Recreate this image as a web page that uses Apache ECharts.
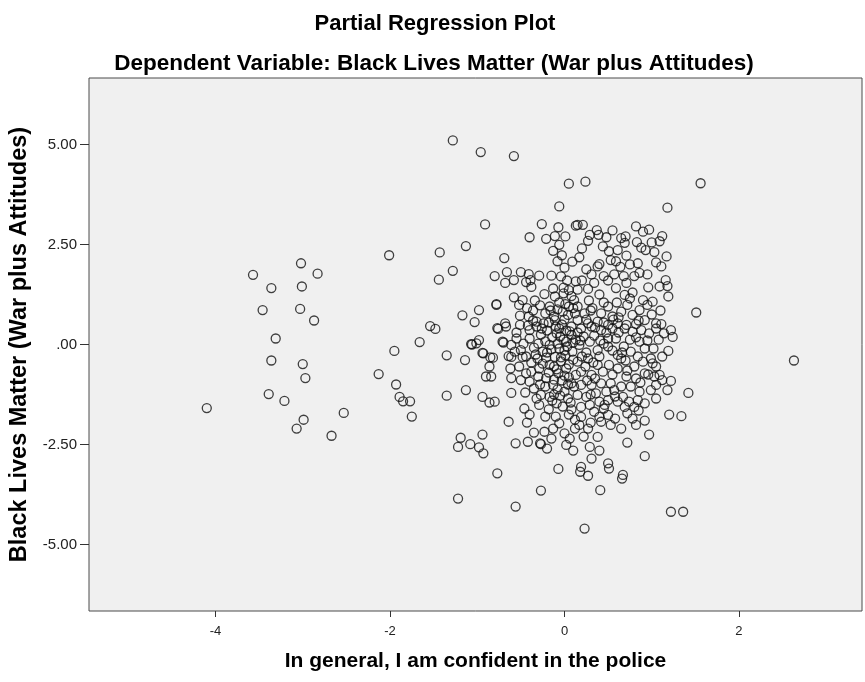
<!DOCTYPE html>
<html>
<head>
<meta charset="utf-8">
<script src="https://cdn.jsdelivr.net/npm/echarts@6/dist/echarts.min.js"></script>
<style>
  html, body { margin: 0; padding: 0; background: #ffffff; }
  #chart { width: 865px; height: 682px; }
</style>
</head>
<body>
<div id="chart"></div>
<script>
// Partial regression residuals: [confidence in police, BLM (war plus attitudes)]
const farLeft = [
  [-4.10,-1.59],[-3.57,1.74],[-3.02,2.03],[-2.83,1.77],[-3.36,1.41],[-3.01,1.45],
  [-3.46,0.86],[-3.03,0.89],[-2.87,0.60],[-3.31,0.15],[-3.36,-0.40],[-3.00,-0.49],
  [-2.97,-0.84],[-3.39,-1.24],[-3.21,-1.41],[-2.99,-1.88],[-3.07,-2.10],[-2.53,-1.71],
  [-2.67,-2.28]
];
const midLeft = [
  [-2.01,2.23],[-1.43,2.30],[-1.44,1.62],[-1.28,1.84],[-1.54,0.46],[-1.48,0.39],
  [-1.66,0.06],[-1.95,-0.16],[-1.35,-0.27],[-2.13,-0.74],[-1.93,-1.00],[-1.89,-1.31],
  [-1.85,-1.42],[-1.77,-1.42],[-1.75,-1.80],[-1.35,-1.28]
];
const upperSparse = [
  [-1.28,5.10],[-0.96,4.81],[-0.58,4.71],[0.05,4.02],[0.24,4.07],[1.56,4.03],
  [-0.06,3.45],[1.18,3.42],[-0.91,3.00],[-0.26,3.01],[-1.13,2.46],[-0.40,2.68],
  [-0.69,2.16],[-0.80,1.71],[-0.78,1.01],[-0.78,0.99],[-1.17,0.73],[-0.98,0.86],
  [-1.03,0.56],[-1.14,-0.39],[-1.07,0.01],[-0.98,0.11],[-0.94,-0.21],[-0.77,0.41],
  [-0.68,0.53],[-0.70,0.05],[-0.55,0.15],[-0.85,-0.32],[-0.64,-0.29]
];
const upperLeftCore = [
  [0.13,2.97],[-0.21,2.64],[-0.07,2.93],[-0.11,2.71],[0.01,2.70],[-0.06,2.49],
  [-0.13,2.34],[-0.03,2.23],[-0.08,2.08],[0.00,1.92],[0.09,2.07],[-0.66,1.81],
  [-0.50,1.81],[-0.58,1.61],[-0.68,1.54],[-0.41,1.76],[-0.29,1.72],[-0.39,1.61],
  [-0.44,1.56],[-0.38,1.44],[-0.15,1.72],[-0.04,1.70],[0.03,1.60],[0.13,1.58],
  [-0.13,1.40],[-0.01,1.42],[0.05,1.36],[-0.58,1.18],[-0.48,1.11],[-0.34,1.10],
  [-0.23,1.26],[-0.11,1.20],[-0.01,1.28],[0.08,1.21],[0.11,1.11],[-0.52,0.99],
  [-0.43,0.91],[-0.51,0.72],[-0.41,0.70],[-0.51,0.49],[-0.42,0.47],[-0.32,0.57],
  [-0.22,0.78],[-0.17,0.95],[-0.08,0.88],[0.01,1.01],[0.10,0.91],[-0.24,0.53],
  [-0.11,0.61],[0.00,0.63],[0.08,0.45],[-0.06,0.40]
];
const upperRightCore = [
  [0.15,2.99],[0.21,2.99],[0.37,2.86],[0.29,2.74],[0.27,2.59],[0.48,2.68],
  [0.39,2.74],[0.65,2.66],[0.69,2.54],[0.61,2.36],[0.51,2.33],[0.53,2.11],
  [0.59,2.08],[0.64,1.94],[0.71,2.22],[0.90,2.82],[0.97,2.87],[0.83,2.56],
  [0.88,2.42],[0.93,2.36],[1.03,2.31],[1.09,2.58],[1.12,2.71],[1.17,2.20],
  [1.11,1.95],[0.84,2.03],[0.86,1.79],[0.80,1.71],[0.17,2.18],[0.25,1.88],
  [0.40,2.01],[0.45,1.71],[0.31,1.75],[0.34,1.54],[0.27,1.39],[0.15,1.37],
  [0.57,1.75],[0.68,1.71],[0.71,1.54],[0.59,1.41],[0.69,1.24],[0.78,1.30],
  [0.90,1.11],[0.96,1.43],[1.09,1.45],[1.16,1.61],[1.18,1.46],[1.19,1.20],
  [1.01,1.07],[1.51,0.80],[0.15,0.95],[0.23,0.78],[0.32,0.91],[0.42,0.78],
  [0.50,0.95],[0.55,0.70],[0.65,0.82],[0.72,0.99],[0.78,0.74],[0.86,0.86],
  [0.92,0.61],[0.95,0.99],[1.05,0.53],[1.11,0.51],[0.15,0.61],[0.27,0.53],
  [0.38,0.57],[0.50,0.49],[0.61,0.53],[0.71,0.49],[0.82,0.51]
];
const lowerLeftCore = [
  [-1.06,0.00],[-1.01,0.03],[-0.93,-0.22],[-0.82,-0.33],[-0.86,-0.55],[-0.90,-0.80],
  [-0.84,-0.80],[-0.71,0.07],[-0.61,-0.01],[-0.50,-0.14],[-0.48,-0.31],[-0.61,-0.31],
  [-0.62,-0.60],[-0.61,-0.84],[-0.50,-0.89],[-0.40,-0.93],[-0.44,-0.72],[-0.38,-0.68],
  [-1.13,-1.14],[-0.94,-1.31],[-0.86,-1.45],[-0.80,-1.43],[-0.61,-1.21],[-0.46,-1.60],
  [-0.40,-1.75],[-0.43,-1.95],[-0.64,-1.93],[-0.22,-1.80],[-0.94,-2.25],[-1.19,-2.33],
  [-1.22,-2.56],[-1.08,-2.49],[-0.98,-2.57],[-0.93,-2.72],[-0.56,-2.47],[-0.42,-2.43],
  [-0.28,-2.47],[-0.77,-3.22],[-0.07,-3.11],[-0.31,-0.35],[-0.25,-0.18],[-0.17,-0.01],
  [-0.29,-0.60],[-0.17,-0.51],[-0.11,-0.31],[-0.06,-0.10],[0.02,0.07],[0.08,0.24],
  [-0.21,-0.84],[-0.13,-1.01],[-0.27,-1.26],[-0.17,-1.31],[-0.09,-1.47],[0.00,-1.18],
  [0.08,-0.97],[0.13,-0.76],[-0.29,-1.51],[-0.23,-2.18],[-0.13,-2.10],[-0.06,-1.97],
  [0.00,-2.22],[0.06,-2.35],[0.02,-2.51],[-0.15,-2.35],[-0.76,0.39],[-0.67,0.45],
  [-0.40,0.36],[-0.32,0.45],[-0.57,-0.18]
];
const lowerRightCore = [
  [0.19,0.40],[0.31,0.45],[0.42,0.36],[0.50,0.15],[0.59,0.15],[0.69,0.40],
  [0.78,0.32],[0.88,0.36],[0.97,0.28],[1.05,0.40],[1.14,0.28],[1.22,0.36],
  [1.24,0.19],[1.19,-0.16],[0.17,-0.01],[0.29,0.07],[0.38,-0.14],[0.50,-0.05],
  [0.61,-0.26],[0.51,-0.51],[0.65,-0.35],[0.76,-0.18],[0.86,0.07],[0.92,-0.10],
  [0.99,-0.35],[1.01,-0.47],[0.90,-0.43],[0.80,-0.55],[0.15,-0.43],[0.27,-0.35],
  [0.38,-0.51],[0.19,-0.68],[0.31,-0.76],[0.44,-0.68],[0.61,-0.60],[0.71,-0.80],
  [0.82,-0.85],[0.92,-0.72],[1.03,-0.80],[1.09,-0.76],[1.12,-0.89],[1.22,-0.91],
  [1.18,-1.14],[1.05,-1.01],[0.99,-1.14],[0.86,-1.18],[0.76,-1.05],[0.65,-1.05],
  [0.53,-0.97],[0.42,-0.97],[0.31,-1.01],[0.19,-1.01],[0.15,-1.26],[0.25,-1.31],
  [0.36,-1.22],[0.48,-1.18],[0.57,-1.14],[0.67,-1.31],[0.74,-1.43],[0.84,-1.39],
  [0.92,-1.47],[0.80,-1.56],[0.61,-1.43],[0.50,-1.39],[0.40,-1.43],[0.29,-1.51],
  [0.19,-1.56],[0.46,-1.51],[0.34,-1.68],[0.19,-1.81],[0.17,-2.01],[0.27,-2.10],
  [0.40,-1.81],[0.50,-1.76],[0.42,-1.93],[0.53,-2.01],[0.72,-1.72],[0.78,-1.85],
  [0.82,-2.01],[0.69,-1.56],[0.38,-2.31],[0.29,-2.56],[0.31,-2.85],[0.19,-3.06],
  [0.50,-2.97],[0.51,-3.10],[0.92,-2.79],[0.97,-2.25],[0.67,-3.26],[1.42,-1.21],
  [1.20,-1.75],[1.34,-1.79]
];
const lowerSparse = [
  [0.18,-3.18],[0.27,-3.28],[0.66,-3.35],[0.41,-3.64],[-0.27,-3.65],[-0.56,-4.05],
  [-1.22,-3.85],[0.23,-4.60],[1.22,-4.18],[1.36,-4.18],[-0.27,-2.49],[2.63,-0.40]
];
const denseCentre = [
  [-0.02,0.82],[0.04,0.74],[-0.12,0.70],[-0.18,0.55],[-0.03,0.50],[0.06,0.33],
  [-0.09,0.28],[-0.20,0.35],[-0.27,0.25],[-0.14,0.18],[-0.01,0.12],[0.10,0.05],
  [-0.22,0.08],[-0.30,0.02],[-0.08,0.02],[0.03,-0.05],[-0.15,-0.12],[-0.35,-0.08],
  [-0.40,0.15],[-0.33,-0.25],[0.09,-0.18],[0.01,-0.27],[-0.21,-0.33],[-0.04,-0.42],
  [0.10,-0.38],[-0.12,-0.55],[0.02,-0.60],[-0.25,-0.48],[-0.38,-0.45],[-0.07,-0.72],
  [0.05,-0.82],[-0.18,-0.70],[-0.30,-0.80],[-0.03,-0.90],[0.11,-1.05],[-0.22,-1.05],
  [-0.08,-1.12],[-0.35,-1.10],[0.04,-1.35],[-0.12,-1.25],[-0.02,-1.55],[0.08,-1.62],
  [-0.18,-1.62],[-0.32,-1.35],[0.12,-1.88],[-0.10,-1.80],[0.05,-1.75],[-0.45,-1.20],
  [-0.52,-0.55],[-0.55,0.30],[-0.47,0.02],[-0.36,0.85],[-0.28,0.98],[0.15,0.30],
  [0.13,0.12],[0.22,0.20],[0.25,-0.20],[0.34,0.22],[0.45,0.02],[0.40,-0.30],
  [0.55,-0.15],[0.68,-0.05],[0.75,0.12],[0.62,0.30],[0.55,0.40],[0.45,0.55],
  [0.35,0.42],[0.25,0.62],[0.62,0.68],[0.82,0.18],[0.95,0.10],[1.08,0.12],
  [1.12,-0.30],[1.05,-0.55],[0.70,-0.40],[0.55,-0.75],[0.35,-0.85],[0.24,-0.55],
  [0.87,-0.95],[0.45,-1.60],[0.58,-1.85],[0.30,-1.95],[0.65,-2.10],[0.85,-1.65],
  [0.22,-2.30],[0.10,-2.65],[-0.20,-2.60],[-0.35,-2.20],[0.40,-2.65],[0.72,-2.45],
  [1.05,-1.35],[0.92,-1.90],[1.02,-0.10],[0.28,1.10],[0.40,1.25],[0.50,1.60],
  [0.38,1.95],[0.20,2.40],[0.44,2.45],[0.75,2.00],[0.95,1.75],[1.05,2.05],
  [0.60,1.05],[0.85,0.60],[1.00,0.75],[1.10,0.85],[0.70,2.70],[0.55,2.85],
  [0.82,2.95],[1.00,2.55]
];
const centreBand = [
  [-0.05,0.20],[0.02,0.35],[-0.10,0.45],[0.05,0.95],[-0.06,1.05],[0.00,-0.15],
  [-0.04,-0.32],[0.05,-0.50],[-0.09,-0.62],[0.00,-0.78],[-0.12,-0.88],[0.04,-1.00],
  [-0.05,-1.28],[0.07,-1.45],[-0.14,-1.40],[-0.20,-0.20],[-0.26,0.40],[-0.16,0.85],
  [0.12,0.78],[0.18,0.10],[0.20,-0.30],[0.26,-0.90],[0.33,-0.45],[0.41,0.10],
  [0.48,0.30],[0.56,0.62],[0.66,-0.20],[0.72,-0.65],[0.84,-0.30],[0.96,-0.75],
  [0.58,-1.30],[0.30,-1.25],[0.12,-2.10],[-0.28,-1.00],[-0.44,-0.30],[-0.36,0.60],
  [0.30,0.85],[0.45,1.05],[0.75,1.15],[0.20,1.60]
];

const xTicks = [-4, -2, 0, 2];
const yTicks = [-5, -2.5, 0, 2.5, 5];
const yTickLabels = ['-5.00', '-2.50', '.00', '2.50', '5.00'];

const residuals = [].concat(farLeft, midLeft, upperSparse, upperLeftCore, upperRightCore,
  lowerLeftCore, lowerRightCore, lowerSparse, denseCentre, centreBand);

const FONT = "'Liberation Sans', Arial, sans-serif";

const chart = echarts.init(document.getElementById('chart'), null, { renderer: 'canvas' });
chart.setOption({
  animation: false,
  backgroundColor: '#ffffff',
  title: [
    {
      text: 'Partial Regression Plot',
      left: 430, top: 8, textAlign: 'center',
      textStyle: { fontFamily: FONT, fontWeight: 'bold', fontSize: 22, color: '#000' }
    },
    {
      text: 'Dependent Variable: Black Lives Matter (War plus Attitudes)',
      left: 429, top: 47, textAlign: 'center',
      textStyle: { fontFamily: FONT, fontWeight: 'bold', fontSize: 22.5, color: '#000' }
    }
  ],
  grid: {
    left: 89, top: 78, width: 773, height: 533,
    outerBoundsMode: 'none',
    show: true, backgroundColor: '#f0f0f0', borderColor: '#4a4a4a', borderWidth: 1
  },
  xAxis: {
    type: 'value', min: -5.45, max: 3.41,
    name: 'In general, I am confident in the police',
    nameLocation: 'middle', nameGap: 40,
    nameTextStyle: { fontFamily: FONT, fontWeight: 'bold', fontSize: 21, color: '#000' },
    axisLine: { show: false, onZero: false },
    splitLine: { show: false },
    axisTick: { show: true, customValues: xTicks, length: 6, lineStyle: { color: '#333', width: 1 } },
    axisLabel: { customValues: xTicks, margin: 14, fontFamily: FONT, fontSize: 13, color: '#222' }
  },
  yAxis: {
    type: 'value', min: -6.66, max: 6.66,
    name: 'Black Lives Matter (War plus Attitudes)',
    nameLocation: 'middle', nameGap: 57,
    nameTextStyle: { fontFamily: FONT, fontWeight: 'bold', fontSize: 23.5, color: '#000' },
    axisLine: { show: false, onZero: false },
    splitLine: { show: false },
    axisTick: { show: true, customValues: yTicks, length: 9, lineStyle: { color: '#333', width: 1 } },
    axisLabel: {
      customValues: yTicks, margin: 12, fontFamily: FONT, fontSize: 15, color: '#222',
      formatter: v => yTickLabels[yTicks.indexOf(v)]
    }
  },
  series: [{
    type: 'scatter',
    data: residuals,
    symbol: 'circle',
    symbolSize: 9,
    silent: true,
    itemStyle: { color: 'rgba(0,0,0,0)', borderColor: '#111', borderWidth: 1.3 }
  }]
});
</script>
</body>
</html>
